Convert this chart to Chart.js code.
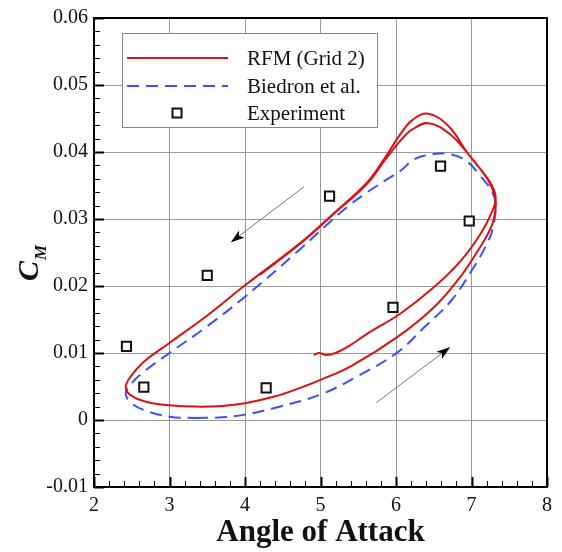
<!DOCTYPE html>
<html lang="en">
<head>
    <meta charset="UTF-8">
    <title>Pitching Moment Hysteresis</title>
    <script src="https://cdn.jsdelivr.net/npm/chart.js@4"></script>
    <style>
        html, body { margin: 0; padding: 0; background: white; }
        .chart-container { position: relative; width: 562px; height: 552px; }
    </style>
</head>
<body>
    <div class="chart-container">
        <canvas id="chart" width="562" height="552"></canvas>
    </div>

    <script>
        // RFM (Grid 2) - two cycles, starting near alpha = 4.9
        const rfmAlpha = [4.91, 4.98, 5.08, 5.20, 5.40, 5.62, 6.06, 6.50, 6.86, 7.12, 7.28, 7.32, 7.24, 6.95, 6.70, 6.43, 6.22, 6.06, 5.84, 5.62,
            5.17, 4.73, 4.00, 3.50, 3.00, 2.66, 2.48, 2.42, 2.50, 2.70, 3.00, 3.35, 3.70, 4.00, 4.39, 4.73, 5.00, 5.40, 6.02, 6.50, 6.82,
            7.03, 7.26, 7.32, 7.31, 7.22, 6.95, 6.70, 6.43, 6.22, 6.06, 5.84, 5.62, 5.17, 4.73, 4.20];
        const rfmCm = [0.0097, 0.0100, 0.0097, 0.0100, 0.0112, 0.0129, 0.0159, 0.0198, 0.0238, 0.0278, 0.0313, 0.0333, 0.0356, 0.0398, 0.0438, 0.0457, 0.0448, 0.0427, 0.0389, 0.0355,
            0.0308, 0.0264, 0.0201, 0.0156, 0.0115, 0.0087, 0.0064, 0.0048, 0.0036, 0.0027, 0.0022, 0.0020, 0.0021, 0.0025, 0.0035, 0.0048, 0.0060, 0.0080, 0.0124, 0.0168, 0.0209,
            0.0243, 0.0288, 0.0317, 0.0334, 0.0358, 0.0398, 0.0428, 0.0443, 0.0434, 0.0417, 0.0386, 0.0353, 0.0307, 0.0263, 0.0217];

        // Biedron et al.
        const biedronAlpha = [3.35, 3.70, 4.00, 4.39, 5.00, 5.50, 6.02, 6.37, 6.73, 7.03, 7.20, 7.28, 7.32, 7.26, 7.12, 6.95, 6.75, 6.50, 6.24, 6.06, 5.85,
            5.62, 5.40, 5.17, 4.73, 4.00, 3.50, 3.00, 2.66, 2.50, 2.42, 2.48, 2.66, 3.00, 3.35];
        const biedronCm = [0.0003, 0.0004, 0.0008, 0.0018, 0.0038, 0.0066, 0.0101, 0.0138, 0.0178, 0.0228, 0.0262, 0.0285, 0.0323, 0.0343, 0.0364, 0.0385, 0.0396, 0.0397, 0.0389, 0.0372, 0.0357,
            0.0340, 0.0322, 0.0300, 0.0255, 0.0184, 0.0140, 0.0100, 0.0072, 0.0055, 0.0040, 0.0027, 0.0015, 0.0005, 0.0003];

        // Experiment
        const expAlpha = [2.43, 2.66, 3.50, 4.28, 5.12, 5.96, 6.59, 6.97];
        const expCm = [0.0110, 0.0049, 0.0216, 0.0048, 0.0334, 0.0168, 0.0379, 0.0297];

        // direction arrows [fromAlpha, fromCm, toAlpha, toCm]
        const arrowDown = [4.78, 0.0348, 3.81, 0.0265];
        const arrowUp = [5.74, 0.0026, 6.72, 0.0109];

        const seriesNames = ['RFM (Grid 2)', 'Biedron et al.', 'Experiment'];
        const xMin = 2, xMax = 8, xStep = 1;
        const yMin = -0.01, yMax = 0.06, yStep = 0.01;

        const RED = '#dd1111';
        const BLUE = '#3d4dff';
        const SERIF = '"Liberation Serif", "Times New Roman", serif';

        function toPoints(xs, ys) {
            return xs.map((x, i) => ({ x: x, y: ys[i] }));
        }

        function drawArrow(ctx, chart, a) {
            const xs = chart.scales.x, ys = chart.scales.y;
            const x0 = xs.getPixelForValue(a[0]), y0 = ys.getPixelForValue(a[1]);
            const x1 = xs.getPixelForValue(a[2]), y1 = ys.getPixelForValue(a[3]);
            const ang = Math.atan2(y1 - y0, x1 - x0);
            const len = 14, half = 4.5;
            ctx.save();
            ctx.strokeStyle = '#777';
            ctx.lineWidth = 1;
            ctx.beginPath();
            ctx.moveTo(x0, y0);
            ctx.lineTo(x1 - Math.cos(ang) * len * 0.8, y1 - Math.sin(ang) * len * 0.8);
            ctx.stroke();
            ctx.fillStyle = '#000';
            ctx.beginPath();
            ctx.moveTo(x1, y1);
            ctx.lineTo(x1 - Math.cos(ang) * len - Math.sin(ang) * half, y1 - Math.sin(ang) * len + Math.cos(ang) * half);
            ctx.lineTo(x1 - Math.cos(ang) * len * 0.75, y1 - Math.sin(ang) * len * 0.75);
            ctx.lineTo(x1 - Math.cos(ang) * len + Math.sin(ang) * half, y1 - Math.sin(ang) * len - Math.cos(ang) * half);
            ctx.closePath();
            ctx.fill();
            ctx.restore();
        }

        // frame, inward ticks, legend box, arrows and the C_M label
        const decorations = {
            id: 'decorations',
            afterDraw(chart) {
                const ctx = chart.ctx;
                const area = chart.chartArea;
                const xs = chart.scales.x, ys = chart.scales.y;

                ctx.save();
                ctx.strokeStyle = '#000';

                // minor + major ticks on left and bottom
                for (let i = 0; i <= Math.round((yMax - yMin) / (yStep / 5)); i++) {
                    const v = yMin + i * yStep / 5;
                    const py = Math.round(ys.getPixelForValue(v)) + 0.5;
                    const major = i % 5 === 0;
                    ctx.lineWidth = major ? 2 : 1;
                    ctx.beginPath();
                    ctx.moveTo(area.left, py);
                    ctx.lineTo(area.left + (major ? 10 : 6), py);
                    ctx.stroke();
                }
                for (let i = 0; i <= Math.round((xMax - xMin) / (xStep / 5)); i++) {
                    const v = xMin + i * xStep / 5;
                    const px = Math.round(xs.getPixelForValue(v)) + 0.5;
                    const major = i % 5 === 0;
                    ctx.lineWidth = major ? 2 : 1;
                    ctx.beginPath();
                    ctx.moveTo(px, area.bottom);
                    ctx.lineTo(px, area.bottom - (major ? 10 : 6));
                    ctx.stroke();
                }

                ctx.lineWidth = 2;
                ctx.strokeRect(area.left, area.top, area.right - area.left, area.bottom - area.top);

                // legend box
                ctx.fillStyle = '#fff';
                ctx.fillRect(122, 33, 255, 94);
                ctx.strokeStyle = '#888';
                ctx.lineWidth = 1;
                ctx.strokeRect(122.5, 33.5, 255, 94);

                ctx.lineWidth = 2;
                ctx.strokeStyle = RED;
                ctx.beginPath();
                ctx.moveTo(127, 58);
                ctx.lineTo(228, 58);
                ctx.stroke();

                ctx.strokeStyle = BLUE;
                ctx.setLineDash([12, 7]);
                ctx.beginPath();
                ctx.moveTo(127, 86);
                ctx.lineTo(228, 86);
                ctx.stroke();
                ctx.setLineDash([]);

                ctx.strokeStyle = '#111';
                ctx.strokeRect(172.5, 108.5, 9, 9);

                ctx.fillStyle = '#111';
                ctx.font = '21px ' + SERIF;
                ctx.textBaseline = 'middle';
                ctx.textAlign = 'left';
                ctx.fillText(seriesNames[0], 247, 59);
                ctx.fillText(seriesNames[1], 247, 87);
                ctx.fillText(seriesNames[2], 247, 114);

                // y axis title, rotated, with subscript
                ctx.translate(38, 281);
                ctx.rotate(-Math.PI / 2);
                ctx.textBaseline = 'alphabetic';
                ctx.font = 'italic bold 30px ' + SERIF;
                ctx.fillText('C', 0, 0);
                const cw = ctx.measureText('C').width;
                ctx.font = 'italic bold 17px ' + SERIF;
                ctx.fillText('M', cw + 1, 8);
                ctx.restore();

                drawArrow(ctx, chart, arrowDown);
                drawArrow(ctx, chart, arrowUp);
            }
        };

        new Chart(document.getElementById('chart'), {
            type: 'scatter',
            data: {
                datasets: [
                    {
                        label: seriesNames[0],
                        data: toPoints(rfmAlpha, rfmCm),
                        showLine: true,
                        borderColor: RED,
                        borderWidth: 2,
                        pointRadius: 0,
                        tension: 0.4
                    },
                    {
                        label: seriesNames[1],
                        data: toPoints(biedronAlpha, biedronCm),
                        showLine: true,
                        borderColor: BLUE,
                        borderWidth: 2,
                        borderDash: [12, 7],
                        pointRadius: 0,
                        tension: 0.4
                    },
                    {
                        label: seriesNames[2],
                        data: toPoints(expAlpha, expCm),
                        pointStyle: 'rect',
                        pointRadius: 6.5,
                        borderColor: '#111',
                        borderWidth: 2,
                        backgroundColor: '#fff'
                    }
                ]
            },
            options: {
                responsive: false,
                animation: false,
                layout: { padding: { left: 0, right: 15, top: 16, bottom: 0 } },
                plugins: {
                    legend: { display: false },
                    tooltip: { enabled: false }
                },
                scales: {
                    x: {
                        type: 'linear',
                        min: xMin,
                        max: xMax,
                        afterFit: (scale) => { scale.height = 65; },
                        ticks: {
                            stepSize: xStep,
                            color: '#111',
                            padding: 7,
                            maxRotation: 0,
                            font: { family: SERIF, size: 20 }
                        },
                        grid: { color: '#999', lineWidth: 1, drawTicks: false },
                        border: { display: false },
                        title: {
                            display: true,
                            text: 'Angle of Attack',
                            color: '#111',
                            padding: 0,
                            font: { family: SERIF, size: 31, weight: 'bold' }
                        }
                    },
                    y: {
                        type: 'linear',
                        min: yMin,
                        max: yMax,
                        afterFit: (scale) => { scale.width = 94; },
                        ticks: {
                            stepSize: yStep,
                            color: '#111',
                            padding: 6,
                            font: { family: SERIF, size: 20 },
                            callback: (v) => {
                                const r = Math.round(v * 100) / 100;
                                return r === 0 ? '0' : r.toFixed(2);
                            }
                        },
                        grid: { color: '#999', lineWidth: 1, drawTicks: false },
                        border: { display: false }
                    }
                }
            },
            plugins: [decorations]
        });
    </script>
</body>
</html>
